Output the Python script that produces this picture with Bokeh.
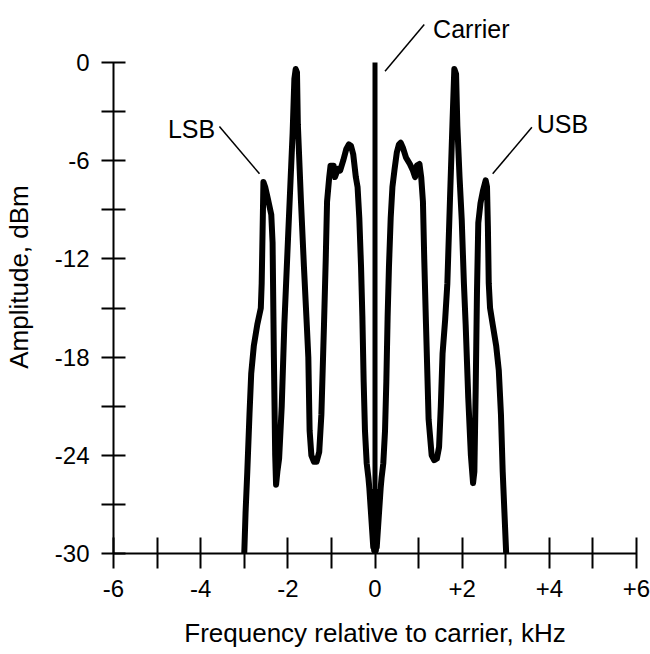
from bokeh.plotting import figure
from bokeh.models import FixedTicker, Range1d, Label, Arrow
from bokeh.embed import file_html
from bokeh.resources import INLINE

# ---- data ----
freq_khz = [
    -3.00, -2.97, -2.93, -2.88, -2.84, -2.78, -2.70, -2.62, -2.60, -2.58,
    -2.56, -2.52, -2.46, -2.38, -2.35, -2.32, -2.29, -2.27, -2.24, -2.20,
    -2.14, -2.08, -1.99, -1.89, -1.85, -1.82, -1.79, -1.77, -1.70, -1.63,
    -1.56, -1.53, -1.50, -1.46, -1.40, -1.34, -1.28, -1.23, -1.17, -1.13,
    -1.10, -1.05, -1.02, -0.95, -0.92, -0.85, -0.80, -0.73, -0.66, -0.60,
    -0.55, -0.50, -0.44, -0.40, -0.36, -0.32, -0.29, -0.26, -0.23, -0.19,
    -0.15, -0.13, -0.04, -0.10, -0.02, -0.07, 0.00,
    0.07, 0.02, 0.10, 0.04, 0.13, 0.15, 0.19, 0.23, 0.26, 0.29, 0.32, 0.36,
    0.40, 0.45, 0.50, 0.55, 0.59, 0.64, 0.71, 0.80, 0.87, 0.92,
    0.96, 1.02, 1.06, 1.10, 1.13, 1.17, 1.23, 1.30, 1.36, 1.42,
    1.47, 1.51, 1.55, 1.61, 1.66, 1.72, 1.78, 1.82, 1.86, 1.89,
    1.94, 1.99, 2.04, 2.08, 2.14, 2.20, 2.25, 2.28, 2.31, 2.34,
    2.37, 2.42, 2.48, 2.54, 2.57, 2.59, 2.61, 2.64, 2.70, 2.78,
    2.84, 2.89, 2.93, 2.97, 3.01,
]
amplitude_dbm = [
    -30.0, -27.5, -25.0, -21.5, -19.0, -17.3, -16.0, -15.0, -13.5, -10.4,
    -7.3, -7.6, -8.3, -9.3, -11.0, -18.0, -24.0, -25.8, -25.0, -24.2,
    -21.0, -16.0, -10.4, -4.3, -1.0, -0.4, -0.6, -3.8, -8.4, -12.5,
    -16.3, -18.0, -22.5, -24.0, -24.4, -24.4, -23.8, -21.5, -16.0, -12.0,
    -8.5, -7.0, -6.3, -6.3, -7.0, -6.5, -6.6, -6.0, -5.3, -5.0,
    -5.1, -5.6, -7.0, -7.6, -9.5, -12.5, -15.5, -19.5, -22.5, -24.5,
    -25.4, -26.0, -29.6, -26.2, -29.8, -26.5, -30.0,
    -26.5, -29.8, -26.2, -29.6, -26.0, -25.4, -24.5, -22.5, -19.5, -15.5, -12.5, -9.5,
    -7.6, -6.5, -5.5, -5.0, -4.9, -5.2, -5.8, -6.2, -6.6, -7.0,
    -6.3, -6.2, -7.0, -8.5, -12.0, -16.0, -21.8, -24.0, -24.3, -24.2,
    -23.5, -21.0, -17.8, -15.7, -13.5, -8.4, -3.5, -0.4, -0.7, -3.9,
    -7.0, -9.6, -13.5, -16.0, -20.5, -24.0, -25.7, -25.0, -20.0, -14.0,
    -9.8, -8.6, -7.8, -7.2, -7.6, -10.0, -13.5, -15.0, -16.0, -17.3,
    -18.8, -21.5, -25.0, -27.5, -30.0,
]
carrier_freq = [0.0]
carrier_level = [0.0]
floor_level = [-30.0]

x_ticks = [-6, -5, -4, -3, -2, -1, 0, 1, 2, 3, 4, 5, 6]
x_tick_labels = ["-6", "", "-4", "", "-2", "", "0", "", "+2", "", "+4", "", "+6"]
y_ticks = [0, -3, -6, -9, -12, -15, -18, -21, -24, -27, -30]
y_tick_labels = ["0", "", "-6", "", "-12", "", "-18", "", "-24", "", "-30"]

annotations = ["Carrier", "LSB", "USB"]

FONT = "Liberation Sans"

# frame spans the axes plus headroom above 0 dBm for the "Carrier" note
p = figure(width=650, height=654, x_range=Range1d(-6, 6), y_range=Range1d(-30, 3.79),
           output_backend="svg", toolbar_location=None,
           min_border_left=112, min_border_right=14, min_border_top=0, min_border_bottom=101)
p.outline_line_color = None
p.grid.visible = False

p.line(freq_khz, amplitude_dbm, line_color="black", line_width=6, line_join="round")
p.segment(x0=carrier_freq, y0=floor_level, x1=carrier_freq, y1=carrier_level,
          line_color="black", line_width=5)

for ax, ticks, labels in ((p.xaxis[0], x_ticks, x_tick_labels), (p.yaxis[0], y_ticks, y_tick_labels)):
    ax.ticker = FixedTicker(ticks=ticks)
    ax.bounds = (min(ticks), max(ticks))
    ax.major_label_overrides = {t: l for t, l in zip(ticks, labels)}
    ax.minor_tick_line_color = None
    ax.axis_line_width = 2
    ax.major_tick_line_width = 2
    ax.major_label_text_font = FONT
    ax.major_label_text_font_size = "24px"
    ax.major_label_text_color = "black"
    ax.axis_label_text_font = FONT
    ax.axis_label_text_font_size = "26px"
    ax.axis_label_text_font_style = "normal"
    ax.axis_label_text_color = "black"

p.xaxis.major_tick_in = 16
p.xaxis.major_tick_out = 15
p.xaxis.major_label_standoff = 11
p.xaxis.axis_label = "Frequency relative to carrier, kHz"
p.xaxis.axis_label_standoff = 18

p.yaxis.major_tick_in = 12
p.yaxis.major_tick_out = 12
p.yaxis.major_label_standoff = 12
p.yaxis.axis_label = "Amplitude, dBm"
p.yaxis.axis_label_standoff = 18

# annotation texts and leader lines
label_pos = [(2.21, 2.06), (-4.21, -4.05), (4.30, -3.74)]
leader_pos = [((1.13, 2.32), (0.23, -0.53)),
              ((-3.57, -3.91), (-2.65, -6.80)),
              ((3.60, -3.95), (2.70, -6.80))]
for txt, (lx, ly), ((x0, y0), (x1, y1)) in zip(annotations, label_pos, leader_pos):
    p.add_layout(Label(x=lx, y=ly, text=txt, text_align="center", text_baseline="alphabetic",
                       text_font=FONT, text_font_size="25px", text_color="black"))
    p.add_layout(Arrow(end=None, x_start=x0, y_start=y0, x_end=x1, y_end=y1,
                       line_color="black", line_width=1.5))

open("out.html", "w").write(file_html(p, INLINE))
